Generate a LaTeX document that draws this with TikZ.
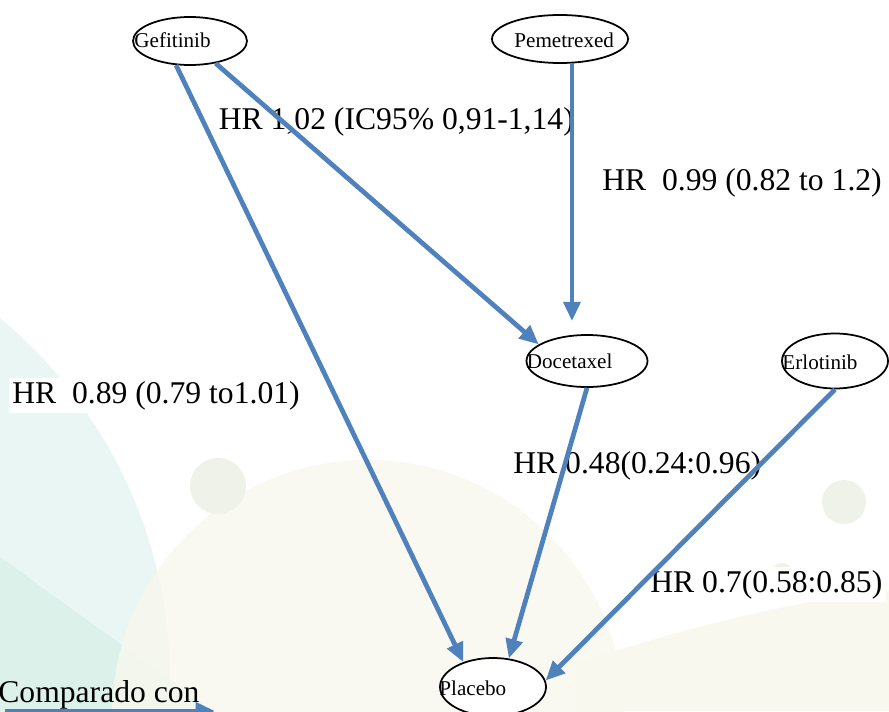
\documentclass[tikz,border=0pt]{standalone}
\usepackage{fontspec}
\setmainfont{Liberation Serif}
\usepackage{tikz}
\usetikzlibrary{arrows.meta, shapes.geometric}
\definecolor{hrblue}{HTML}{4F81BD}
\definecolor{bgteal}{HTML}{EAF6F3}
\definecolor{bgtealdark}{HTML}{DDF1EB}
\definecolor{bgcream}{HTML}{F8F8EE}
\definecolor{bgdot}{HTML}{EFF2E8}

\begin{document}
\begin{tikzpicture}[
  drug/.style={draw, ellipse, line width=1pt, fill=white, inner sep=0pt},
  drugname/.style={anchor=base west, inner sep=0pt, font=\fontsize{12}{14}\selectfont},
  hr/.style={anchor=base west, fill=white, inner sep=2pt, font=\fontsize{18}{20}\selectfont},
  link/.style={draw=hrblue, line width=2.7pt, -{Triangle[length=11pt, width=9.5pt]}}
]

  \useasboundingbox (0,0) rectangle (17.78,14.22);

  % Background shapes
  \begin{scope}
    \clip (0,0) rectangle (17.78,14.22);
    \fill[bgteal] (-6.0,0.62) circle (9.4);
    \fill[bgtealdark] (0,3.08) -- (4.26,0) -- (0,0) -- cycle;
    \fill[bgcream, opacity=0.8] (7.36,-0.1) circle (5.12);
    \fill[bgcream] (11.5,0) -- (11.5,0.95) .. controls (13.5,1.6) and (15.8,2.2) .. (17.78,2.42) -- (17.78,0) -- cycle;
    \foreach \x/\y/\r in {4.36/4.5/0.56, 16.88/4.18/0.44, 15.64/2.72/0.24}
      \fill[bgdot] (\x,\y) circle (\r);
  \end{scope}

  % Hazard ratio labels (arrows go over them)
  \node[hr] (hrGefDoc) at (4.30,11.62) {HR 1,02 (IC95\% 0,91-1,14)};
  \node[hr] (hrPemDoc) at (11.97,10.40) {HR~~0.99 (0.82 to 1.2)};
  \node[hr] (hrGefPl) at (0.17,6.16) {HR~~0.89 (0.79 to1.01)};
  \node[hr] (hrDocPl) at (10.19,4.76) {HR 0.48(0.24:0.96)};
  \node[hr] (hrErlPl) at (12.93,2.38) {HR 0.7(0.58:0.85)};

  % Treatments
  \node[drug, minimum width=2.28cm, minimum height=0.96cm] (gef) at (3.80,13.40) {};
  \node[drug, minimum width=2.72cm, minimum height=0.96cm] (pem) at (11.20,13.44) {};
  \node[drug, minimum width=2.42cm, minimum height=1.04cm] (doc) at (11.74,7.00) {};
  \node[drug, minimum width=2.12cm, minimum height=1.10cm] (erl) at (16.70,7.00) {};
  \node[drug, minimum width=2.12cm, minimum height=1.16cm] (pl) at (9.86,0.48) {};

  \node[drugname] (gefT) at ([xshift=0.04cm, yshift=-0.14cm]gef.west) {Gefitinib};
  \node[drugname] (pemT) at ([xshift=0.46cm, yshift=-0.18cm]pem.west) {Pemetrexed};
  \node[drugname] (docT) at ([xshift=0.02cm, yshift=-0.14cm]doc.west) {Docetaxel};
  \node[drugname] (erlT) at ([xshift=0.02cm, yshift=-0.16cm]erl.west) {Erlotinib};
  \node[drugname] (plT) at ([xshift=0.00cm, yshift=-0.16cm]pl.west) {Placebo};

  % Comparisons
  \draw[link] (gef.-120) -- (pl.140);
  \draw[link] (gef.-41) -- (doc.161);
  \draw[link, shorten >=0.26cm] (pem.-64) -- (pem.-64 |- doc.north);
  \draw[link] (doc.south) -- (pl.61);
  \draw[link] (erl.south) -- (pl.7);

  % Legend
  \node[hr, fill=none] (cmp) at (-0.11,0.18) {Comparado con};
  \coordinate (cmpA) at (0.1,0);
  \coordinate (cmpB) at (4.3,0);
  \draw[link] (cmpA) -- (cmpB);
\end{tikzpicture}
\end{document}
